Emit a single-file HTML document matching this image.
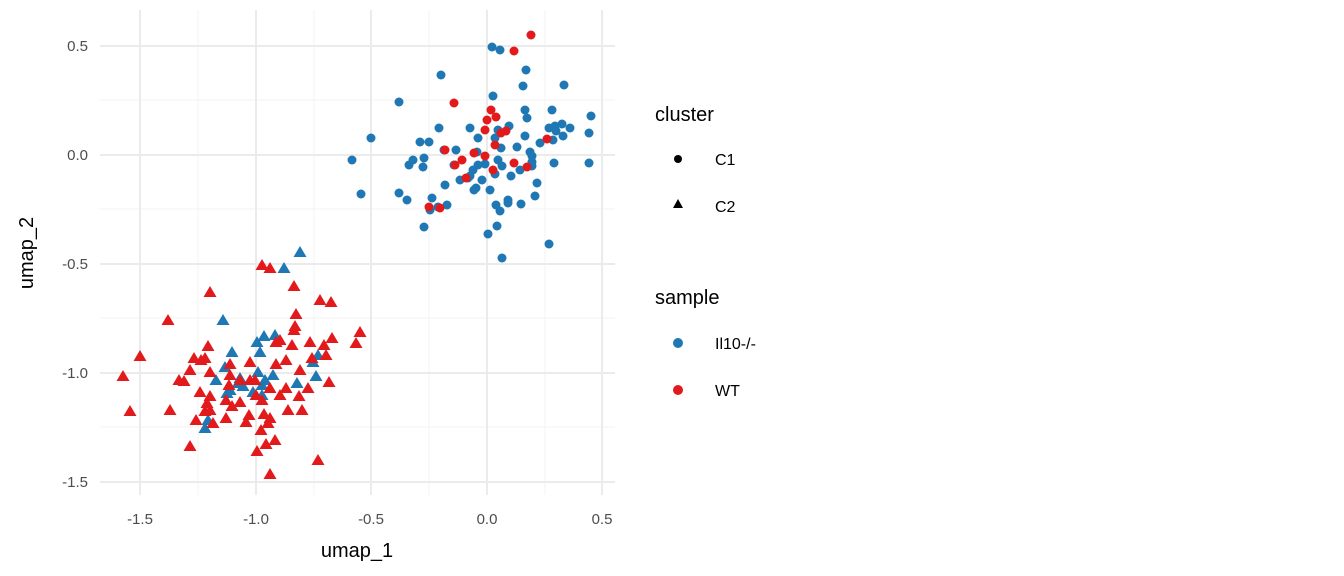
<!DOCTYPE html>
<html><head><meta charset="utf-8"><style>body{margin:0;background:#fff}svg{display:block}text{font-family:"Liberation Sans",sans-serif}</style></head>
<body>
<svg id="s" width="1344" height="576" xmlns="http://www.w3.org/2000/svg">
<g stroke="#f3f3f3" stroke-width="1">
<line x1="100" x2="615" y1="100" y2="100"/><line x1="100" x2="615" y1="209" y2="209"/><line x1="100" x2="615" y1="318" y2="318"/><line x1="100" x2="615" y1="427" y2="427"/>
<line y1="10" y2="495" x1="198" x2="198"/><line y1="10" y2="495" x1="314" x2="314"/><line y1="10" y2="495" x1="429" x2="429"/><line y1="10" y2="495" x1="545" x2="545"/>
</g>
<g stroke="#ebebeb" stroke-width="2">
<line x1="100" x2="615" y1="46" y2="46"/><line x1="100" x2="615" y1="155" y2="155"/><line x1="100" x2="615" y1="264" y2="264"/><line x1="100" x2="615" y1="373" y2="373"/><line x1="100" x2="615" y1="482" y2="482"/>
<line y1="10" y2="495" x1="140" x2="140"/><line y1="10" y2="495" x1="256" x2="256"/><line y1="10" y2="495" x1="371" x2="371"/><line y1="10" y2="495" x1="487" x2="487"/><line y1="10" y2="495" x1="602" x2="602"/>
</g>
<g font-size="15" fill="#4d4d4d" text-anchor="end">
<text x="88" y="51">0.5</text><text x="88" y="160">0.0</text><text x="88" y="269">-0.5</text><text x="88" y="378">-1.0</text><text x="88" y="487">-1.5</text>
</g>
<g font-size="15" fill="#4d4d4d" text-anchor="middle">
<text x="140" y="524">-1.5</text><text x="256" y="524">-1.0</text><text x="371" y="524">-0.5</text><text x="487" y="524">0.0</text><text x="602" y="524">0.5</text>
</g>
<text x="357" y="557" font-size="20" text-anchor="middle">umap_1</text>
<text transform="translate(33,253) rotate(-90)" font-size="20" text-anchor="middle">umap_2</text>
<text x="655" y="121" font-size="20">cluster</text>
<circle cx="678" cy="159" r="4"/><text x="715" y="165" font-size="16">C1</text>
<polygon points="678,199 683,208 673,208"/><text x="715" y="212" font-size="16">C2</text>
<text x="655" y="304" font-size="20">sample</text>
<circle cx="678" cy="343" r="5" fill="#1f78b4"/><text x="715" y="349" font-size="16">Il10-/-</text>
<circle cx="678" cy="390" r="5" fill="#e31a1c"/><text x="715" y="396" font-size="16">WT</text>
<g id="pts"></g>
</svg>
<script>
var bc=[[492,47],[500,50],[526,70],[441,75],[399,102],[523,86],[564,85],[493,96],[552,110],[525,110],[527,118],[562,124],[591,116],[509,126],[470,128],[549,128],[556,131],[553,140],[563,136],[525,136],[495,138],[478,138],[439,128],[420,142],[429,142],[371,138],[444,150],[424,158],[409,165],[413,160],[456,150],[477,152],[501,148],[517,147],[532,156],[540,143],[532,162],[554,163],[589,163],[589,133],[555,126],[498,160],[502,166],[485,164],[473,170],[468,178],[476,188],[490,190],[511,176],[520,170],[532,166],[537,183],[535,196],[521,204],[508,200],[496,205],[500,211],[474,190],[447,205],[432,198],[407,200],[430,210],[438,207],[352,160],[361,194],[399,193],[424,227],[488,234],[497,226],[508,203],[549,244],[502,258],[470,176],[460,180],[482,180],[454,165],[423,167],[445,185],[530,152],[478,165],[495,174],[570,128],[498,130]];
var rc=[[531,35],[514,51],[454,103],[491,110],[496,117],[487,120],[506,131],[485,130],[501,133],[495,145],[485,156],[474,153],[462,160],[455,165],[445,150],[514,163],[527,167],[547,139],[466,178],[440,208],[429,207],[493,170]];
var bt=[[300,252],[284,268],[223,320],[264,336],[275,335],[257,342],[260,352],[232,352],[225,367],[240,378],[227,393],[216,380],[238,383],[230,390],[262,395],[258,372],[273,375],[265,380],[297,383],[318,355],[313,362],[205,428],[208,420],[262,385],[253,392],[316,376],[243,386]];
var rt=[[262,265],[270,268],[210,292],[294,286],[320,300],[296,314],[331,302],[168,320],[295,326],[294,330],[280,340],[292,345],[310,342],[140,356],[194,358],[208,346],[190,370],[201,360],[205,358],[230,364],[250,362],[276,342],[324,345],[332,338],[360,332],[356,343],[312,358],[326,355],[286,360],[300,370],[276,364],[250,380],[240,380],[123,376],[179,380],[184,381],[210,372],[230,375],[255,380],[229,385],[270,388],[286,388],[308,388],[329,382],[299,396],[280,395],[256,395],[262,400],[200,392],[210,396],[226,400],[232,406],[240,402],[170,410],[130,411],[207,403],[205,411],[249,415],[264,414],[270,418],[302,410],[288,410],[196,420],[210,410],[246,422],[268,423],[261,430],[275,440],[190,446],[257,451],[266,444],[318,460],[270,474],[213,423],[226,418]];
var h='';
function c(a,col){a.forEach(function(p){h+='<circle cx="'+p[0]+'" cy="'+p[1]+'" r="4.5" fill="'+col+'"/>';});}
function t(a,col){a.forEach(function(p){var x=p[0],y=p[1];h+='<polygon points="'+x+','+(y-6)+' '+(x+6.5)+','+(y+5)+' '+(x-6.5)+','+(y+5)+'" fill="'+col+'"/>';});}
t(bt,'#1f78b4');t(rt,'#e31a1c');c(bc,'#1f78b4');c(rc,'#e31a1c');
document.getElementById('pts').innerHTML=h;
</script>
</body></html>
